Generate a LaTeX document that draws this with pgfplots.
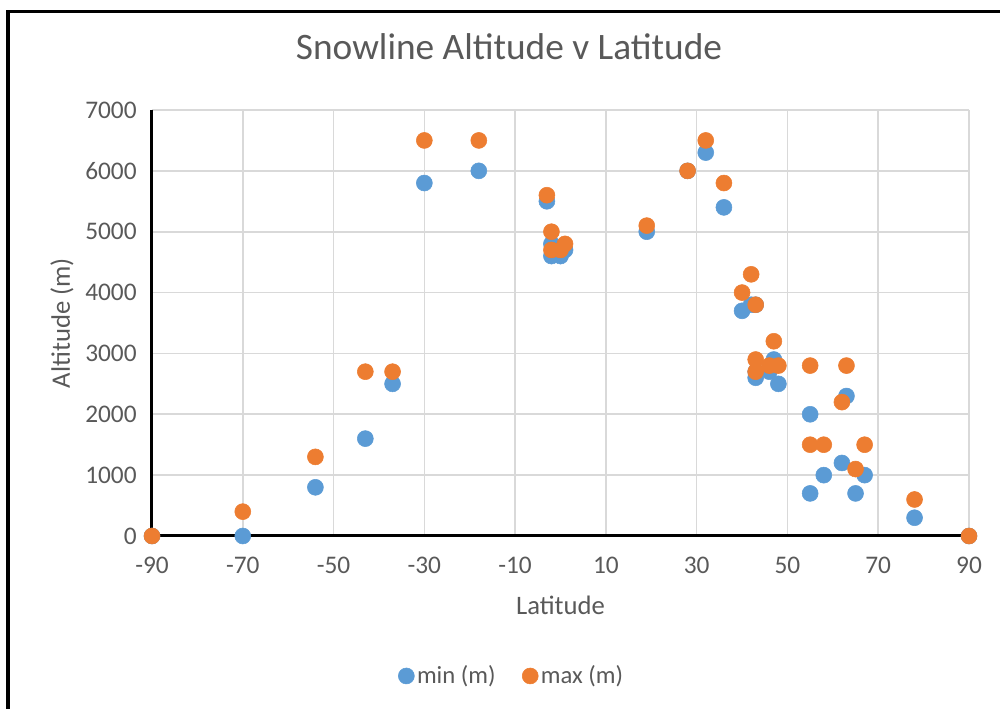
\documentclass[border=0pt]{standalone}
\usepackage{pgfplots}
\pgfplotsset{compat=1.18}
\usepackage{fontspec}
\setmainfont{Carlito}
\definecolor{sblue}{HTML}{5B9BD5}
\definecolor{sorange}{HTML}{ED7D31}
\definecolor{gridc}{HTML}{D9D9D9}
\definecolor{txt}{HTML}{595959}
\begin{document}
\begin{tikzpicture}
\useasboundingbox (-114pt,-129.75pt) rectangle (636pt,402pt);
\draw[line width=2.6pt,black] (-108pt,-140pt) -- (-108pt,393.4pt) -- (650pt,393.4pt);
\begin{axis}[
  at={(0,0)}, anchor=south west,
  scale only axis, width=612.75pt, height=319.5pt,
  xmin=-90, xmax=90, ymin=0, ymax=7000,
  xtick={-90,-70,...,90}, ytick={0,1000,...,7000},
  axis lines=left, axis line style={-, line width=2.25pt, black},
  major tick length=0pt,
  grid=major, major grid style={gridc, line width=1.2pt},
  tick label style={font=\fontsize{19pt}{21pt}\selectfont, text=txt},
  /pgf/number format/assume math mode=true,
  /pgf/number format/1000 sep={},
  xticklabel style={yshift=-12pt},
  yticklabel style={xshift=-8pt},
  xlabel={Latitude}, ylabel={Altitude (m)},
  label style={font=\fontsize{20pt}{22pt}\selectfont, text=txt},
  xlabel style={at={(axis description cs:0.5,0)}, anchor=center, yshift=-51.75pt},
  ylabel style={at={(axis description cs:0,0.5)}, anchor=center, yshift=67.5pt},
  title={Snowline Altitude v Latitude},
  title style={font=\fontsize{28pt}{30pt}\selectfont, text=txt, at={(axis description cs:0.437,1.129)}, anchor=center},
  legend columns=2,
  legend style={draw=none, fill=none, at={(axis description cs:0.4407,-0.3286)}, anchor=center,
    font=\fontsize{18.5pt}{20pt}\selectfont, text=txt, /tikz/every even column/.append style={column sep=18pt}},
  legend cell align=left,
  clip=false,
]
\addplot[only marks, mark=*, mark size=6pt, mark options={draw=sblue, fill=sblue}] coordinates {
(-90,0) (-70,0) (-54,800) (-43,1600) (-37,2500) (-30,5800) (-18,6000)
(-3,5500) (-2,4800) (-2,4600) (0,4600) (1,4700) (19,5000) (28,6000)
(32,6300) (36,5400) (40,3700) (42,3800) (43,3800) (43,2700) (43,2600)
(46,2700) (47,2900) (48,2500) (55,2000) (55,700) (58,1000) (62,1200)
(63,2300) (65,700) (67,1000) (78,300) (90,0)
};
\addlegendentry{min (m)}
\addplot[only marks, mark=*, mark size=6pt, mark options={draw=sorange, fill=sorange}] coordinates {
(-90,0) (-70,400) (-54,1300) (-43,2700) (-37,2700) (-30,6500) (-18,6500)
(-3,5600) (-2,5000) (-2,4700) (0,4700) (1,4800) (19,5100) (28,6000)
(32,6500) (36,5800) (40,4000) (42,4300) (43,3800) (43,2900) (43,2700)
(46,2800) (47,3200) (48,2800) (55,2800) (55,1500) (58,1500) (62,2200)
(63,2800) (65,1100) (67,1500) (78,600) (90,0)
};
\addlegendentry{max (m)}
\end{axis}
\end{tikzpicture}
\end{document}
